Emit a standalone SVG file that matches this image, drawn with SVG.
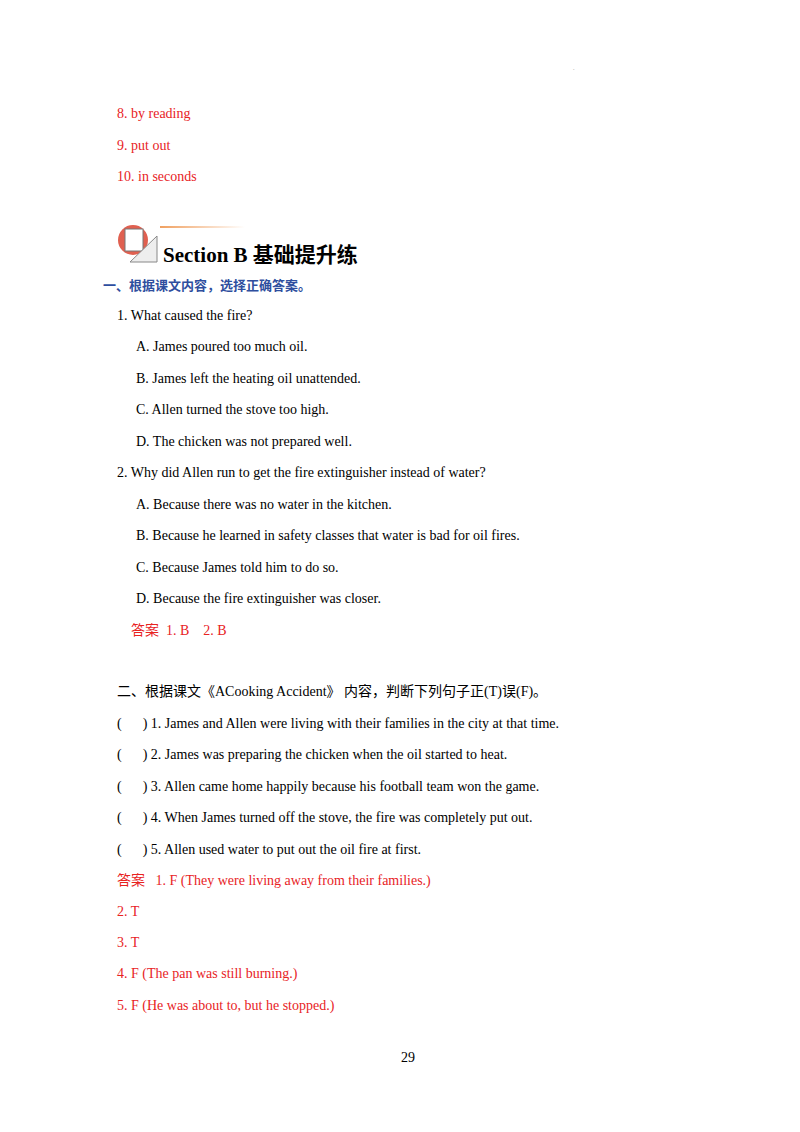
<svg xmlns="http://www.w3.org/2000/svg" width="800" height="1132" viewBox="0 0 800 1132">
<style>
text{font-family:"Liberation Serif","Noto Sans CJK SC",serif;font-size:14px;fill:#000;white-space:pre}
.r{fill:#e8231f}
.h{font-size:21px;font-weight:bold}
.b{fill:#2e4e9e;font-weight:bold;font-family:"Noto Sans CJK SC",sans-serif;font-size:13px}
</style>
<defs><linearGradient id="g" x1="0" x2="1"><stop offset="0" stop-color="#f0a060"/><stop offset="1" stop-color="#f0a060" stop-opacity="0"/></linearGradient></defs>
<rect width="800" height="1132" fill="#fff"/>
<text x="573" y="70" style="font-size:6px;fill:#999">.</text>
<text x="117" y="118" class="r">8. by reading</text>
<text x="117" y="150" class="r">9. put out</text>
<text x="117" y="181" class="r">10. in seconds</text>
<g id="icon">
<rect x="160" y="226" width="85" height="2" fill="url(#g)"/>
<circle cx="133" cy="240" r="15" fill="#e06050"/>
<rect x="125" y="229" width="18" height="22" fill="#fff" stroke="#777" stroke-width="1"/>
<polygon points="130,262 157,236 157,262" fill="#eee" stroke="#888"/>
</g>
<text x="163" y="262" class="h">Section B 基础提升练</text>
<text x="103" y="290" class="b">一、根据课文内容，选择正确答案。</text>
<text x="117" y="320">1. What caused the fire?</text>
<text x="136" y="351">A. James poured too much oil.</text>
<text x="136" y="383">B. James left the heating oil unattended.</text>
<text x="136" y="414">C. Allen turned the stove too high.</text>
<text x="136" y="446">D. The chicken was not prepared well.</text>
<text x="117" y="477">2. Why did Allen run to get the fire extinguisher instead of water?</text>
<text x="136" y="509">A. Because there was no water in the kitchen.</text>
<text x="136" y="540">B. Because he learned in safety classes that water is bad for oil fires.</text>
<text x="136" y="572">C. Because James told him to do so.</text>
<text x="136" y="603">D. Because the fire extinguisher was closer.</text>
<text x="131" y="635" class="r">答案  1. B    2. B</text>
<text x="117" y="696">二、根据课文《ACooking Accident》 内容，判断下列句子正(T)误(F)。</text>
<text x="117" y="728">(      ) 1. James and Allen were living with their families in the city at that time.</text>
<text x="117" y="759">(      ) 2. James was preparing the chicken when the oil started to heat.</text>
<text x="117" y="791">(      ) 3. Allen came home happily because his football team won the game.</text>
<text x="117" y="822">(      ) 4. When James turned off the stove, the fire was completely put out.</text>
<text x="117" y="854">(      ) 5. Allen used water to put out the oil fire at first.</text>
<text x="117" y="885" class="r">答案   1. F (They were living away from their families.)</text>
<text x="117" y="916" class="r">2. T</text>
<text x="117" y="947" class="r">3. T</text>
<text x="117" y="978" class="r">4. F (The pan was still burning.)</text>
<text x="117" y="1010" class="r">5. F (He was about to, but he stopped.)</text>
<text x="401" y="1062">29</text>
</svg>
